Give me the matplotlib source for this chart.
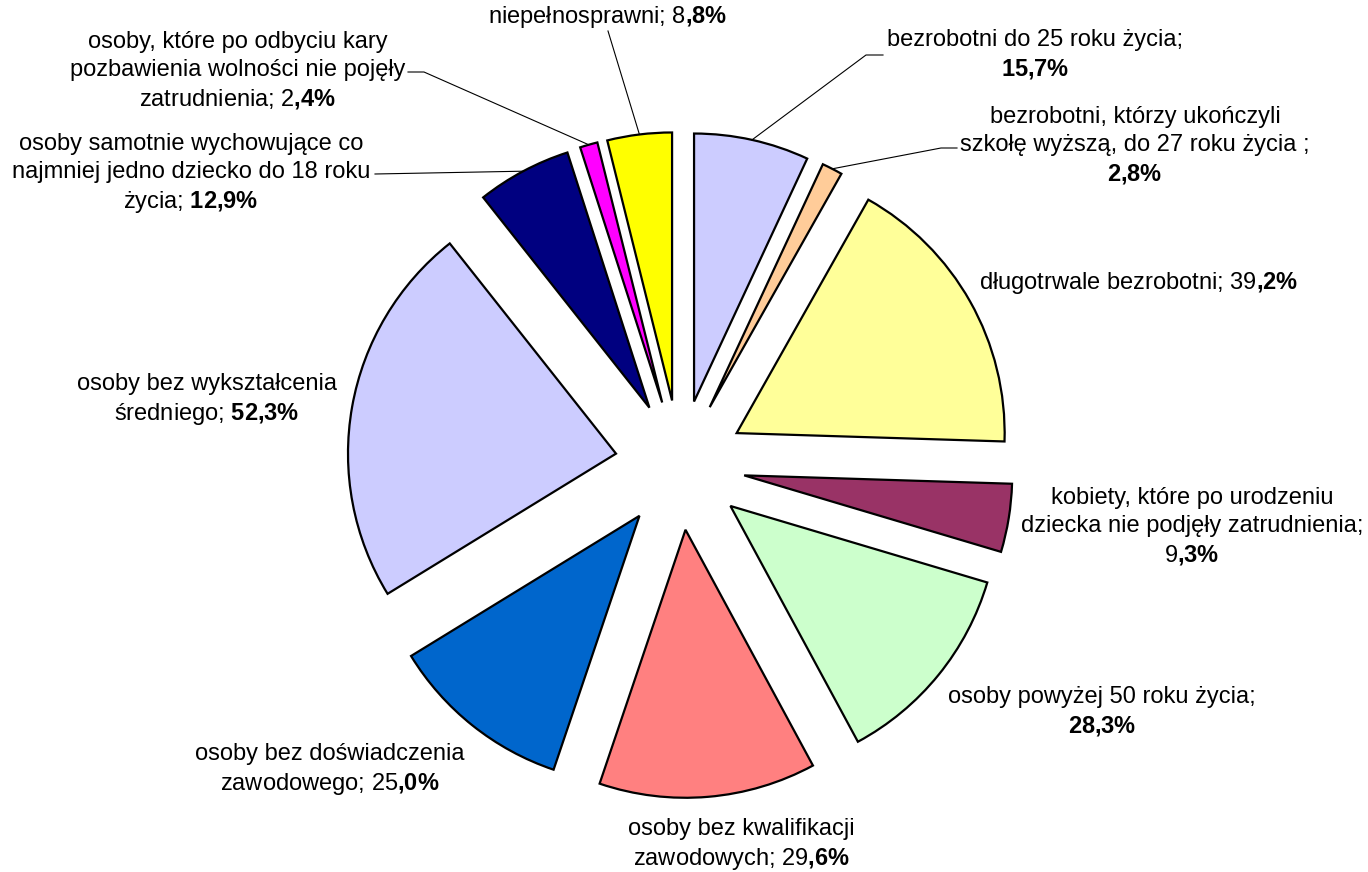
import numpy as np
import matplotlib
matplotlib.use('Agg')
from matplotlib import pyplot as plt

plt.rcParams['font.family'] = ['Liberation Sans', 'DejaVu Sans']
plt.rcParams['mathtext.fontset'] = 'custom'
plt.rcParams['mathtext.rm'] = 'Liberation Sans'
plt.rcParams['mathtext.bf'] = 'Liberation Sans:bold'

# Dane (udział procentowy grup)
wartosci = [15.7, 2.8, 39.2, 9.3, 28.3, 29.6, 25.0, 52.3, 12.9, 2.4, 8.8]
kolory = ['#CCCCFF', '#FFCC99', '#FFFF99', '#993366', '#CCFFCC', '#FF8080',
          '#0066CC', '#CCCCFF', '#000080', '#FF00FF', '#FFFF00']
etykiety = [
    'bezrobotni do 25 roku życia;\n$\\mathbf{15{,}7\\%}$',
    'bezrobotni, którzy ukończyli\nszkołę wyższą, do 27 roku życia ;\n$\\mathbf{2{,}8\\%}$',
    'długotrwale bezrobotni; 39$\\mathbf{{,}2\\%}$',
    'kobiety, które po urodzeniu\ndziecka nie podjęły zatrudnienia;\n9$\\mathbf{{,}3\\%}$',
    'osoby powyżej 50 roku życia;\n$\\mathbf{28{,}3\\%}$',
    'osoby bez kwalifikacji\nzawodowych; 29$\\mathbf{{,}6\\%}$',
    'osoby bez doświadczenia\nzawodowego; 25$\\mathbf{{,}0\\%}$',
    'osoby bez wykształcenia\nśredniego; $\\mathbf{52{,}3\\%}$',
    'osoby samotnie wychowujące co\nnajmniej jedno dziecko do 18 roku\nżycia; $\\mathbf{12{,}9\\%}$',
    'osoby, które po odbyciu kary\npozbawienia wolności nie pojęły\nzatrudnienia; 2$\\mathbf{{,}4\\%}$',
    'niepełnosprawni; 8$\\mathbf{{,}8\\%}$',
]
# pozycje etykiet w pikselach (x, y od góry)
poz_etykiet = [(1035, 55), (1135, 146), (1139, 283), (1192, 527), (1102, 712),
               (741, 845), (330, 770), (207, 400), (191, 174), (238, 71), (608, 17)]
# początek linii odniesienia (None = brak linii)
linie = [[(883, 55), (866, 55)], [(957, 148), (941, 148)], None, None, None,
         None, None, None, [(375, 174)], [(408, 72), (424, 72)], [(608, 31)]]

W, H = 1368, 872
srodek = (680, H - 465)
promien = 268
odsuniecie = 65

fig = plt.figure(figsize=(W / 100, H / 100), dpi=100)
ax = fig.add_axes([0, 0, 1, 1])

wedges, _ = ax.pie(wartosci, colors=kolory, startangle=90, counterclock=False,
                   radius=promien, center=srodek, explode=[odsuniecie] * len(wartosci),
                   wedgeprops=dict(edgecolor='black', linewidth=1.6))

for w, txt, (px, py), linia in zip(wedges, etykiety, poz_etykiet, linie):
    ax.text(px, H - py, txt, ha='center', va='center', fontsize=17,
            multialignment='center', linespacing=1.32)
    if linia is not None:
        kat = np.deg2rad((w.theta1 + w.theta2) / 2)
        r = promien + odsuniecie
        kx = srodek[0] + r * np.cos(kat)
        ky = srodek[1] + r * np.sin(kat)
        xs = [p[0] for p in linia] + [kx]
        ys = [H - p[1] for p in linia] + [ky]
        ax.plot(xs, ys, color='black', linewidth=0.8)

ax.set_xlim(0, W)
ax.set_ylim(0, H)
ax.set_aspect('equal')
ax.axis('off')

plt.savefig('out.png', dpi=100)
